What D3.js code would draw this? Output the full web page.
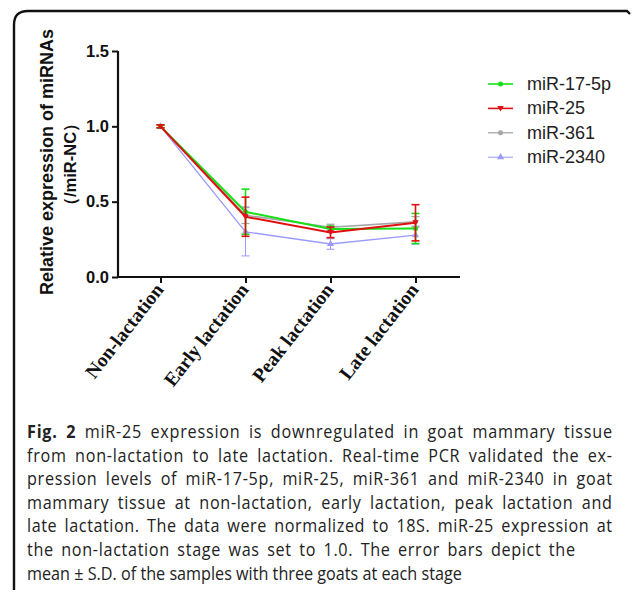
<!DOCTYPE html>
<html>
<head>
<meta charset="utf-8">
<script src="https://cdn.jsdelivr.net/npm/d3@7"></script>
<style>
  body { margin: 0; background: #fff; }
  svg { display: block; }
</style>
</head>
<body>
<svg id="chart" width="633" height="592"></svg>
<script>
// stages on the x axis
const categories = ["Non-lactation", "Early lactation", "Peak lactation", "Late lactation"]
// mean values
const mir17 = [1.0, 0.433, 0.318, 0.322]
const mir25 = [1.0, 0.40, 0.296, 0.36]
const mir361 = [1.0, 0.41, 0.33, 0.366]
const mir2340 = [1.0, 0.30, 0.219, 0.278]
// S.D. of each point
const sd17 = [0.01, 0.15, 0.02, 0.10]
const sd25 = [0.01, 0.13, 0.035, 0.12]
const sd361 = [0.01, 0.055, 0.02, 0.035]
const sd2340 = [0.01, 0.16, 0.035, 0.06]
const seriesNames = ["miR-17-5p", "miR-25", "miR-361", "miR-2340"]
const yTicks = [0, 0.5, 1.0, 1.5]
const caption = [
    "miR-25 expression is downregulated in goat mammary tissue",
    "from non-lactation to late lactation. Real-time PCR validated the ex-",
    "pression levels of miR-17-5p, miR-25, miR-361 and miR-2340 in goat",
    "mammary tissue at non-lactation, early lactation, peak lactation and",
    "late lactation. The data were normalized to 18S. miR-25 expression at",
    "the non-lactation stage was set to 1.0. The error bars depict the",
    "mean ± S.D. of the samples with three goats at each stage"
]
// right edge of each caption line (null = natural width)
const captionEnds = [612, 612, 612, 612, 612, 575, null]

let svg = d3.select("#chart")

// frame of the figure panel
svg.append("path")
    .attr("d", "M14,590 V25 Q14,11 28,11 H627 L630,14")
    .attr("fill", "none")
    .attr("stroke", "#111")
    .attr("stroke-width", 2.4)

let x = d3.scalePoint().domain(categories).range([118, 458]).padding(0.5)
let y = d3.scaleLinear().domain([0, 1.5]).range([277, 51])

// series, drawn bottom to top
let series = [
    { name: seriesNames[3], values: mir2340, sd: sd2340, color: "#9a9aff", width: 1.3, marker: "triangle" },
    { name: seriesNames[2], values: mir361, sd: sd361, color: "#a6a6a6", width: 1.6, marker: "circle" },
    { name: seriesNames[0], values: mir17, sd: sd17, color: "#16e016", width: 2, marker: "circle" },
    { name: seriesNames[1], values: mir25, sd: sd25, color: "#e01010", width: 2, marker: "down" },
]

let line = d3.line()
    .x((d, i) => x(categories[i]))
    .y(d => y(d))

function markerPath(type) {
    if (type == "triangle") return d3.symbol().type(d3.symbolTriangle).size(22)()
    if (type == "down") return "M-3.2,-2.4 L3.2,-2.4 L0,3 Z"
    return d3.symbol().type(d3.symbolCircle).size(20)()
}

let plot = svg.append("g")
series.forEach(s => {
    let g = plot.append("g")
    let pts = s.values.map((v, i) => ({ cat: categories[i], v: v, sd: s.sd[i] }))
    // error bars
    let eb = g.selectAll(".eb").data(pts).enter().append("g")
        .attr("stroke", s.color)
        .attr("stroke-width", s.width * 0.8)
    eb.append("line")
        .attr("x1", d => x(d.cat)).attr("x2", d => x(d.cat))
        .attr("y1", d => y(d.v + d.sd)).attr("y2", d => y(d.v - d.sd))
    eb.append("line")
        .attr("x1", d => x(d.cat) - 4).attr("x2", d => x(d.cat) + 4)
        .attr("y1", d => y(d.v + d.sd)).attr("y2", d => y(d.v + d.sd))
    eb.append("line")
        .attr("x1", d => x(d.cat) - 4).attr("x2", d => x(d.cat) + 4)
        .attr("y1", d => y(d.v - d.sd)).attr("y2", d => y(d.v - d.sd))
    g.append("path")
        .attr("d", line(s.values))
        .attr("fill", "none")
        .attr("stroke", s.color)
        .attr("stroke-width", s.width)
    g.selectAll(".mk").data(pts).enter().append("path")
        .attr("d", markerPath(s.marker))
        .attr("transform", d => `translate(${x(d.cat)},${y(d.v)})`)
        .attr("fill", s.color)
})

// axes
let yAxis = svg.append("g")
    .attr("transform", "translate(118,0)")
    .call(d3.axisLeft(y).tickValues(yTicks).tickFormat(d3.format(".1f")).tickSize(6).tickPadding(3))
let xAxis = svg.append("g")
    .attr("transform", "translate(0,277)")
    .call(d3.axisBottom(x).tickSize(6).tickFormat(""))

;[yAxis, xAxis].forEach(a => {
    a.select(".domain").attr("stroke", "#111").attr("stroke-width", 2.2)
    a.selectAll(".tick line").attr("stroke", "#111").attr("stroke-width", 2)
})
yAxis.select(".domain").attr("d", "M0,51 V277")
xAxis.select(".domain").attr("d", "M117,0 H460")
yAxis.selectAll(".tick text")
    .attr("font-family", "Liberation Sans, Arial, sans-serif")
    .attr("font-weight", "bold")
    .attr("font-size", 16.5)
    .attr("fill", "#111")

// rotated category labels
svg.append("g")
    .selectAll("text")
    .data(categories)
    .enter()
    .append("text")
    .attr("transform", d => `translate(${x(d) + 4},${290}) rotate(-52)`)
    .attr("text-anchor", "end")
    .attr("font-family", "Liberation Serif, 'Times New Roman', serif")
    .attr("font-weight", "bold")
    .attr("font-size", 19.5)
    .attr("fill", "#111")
    .text(d => d)

// y axis title
svg.append("text")
    .attr("transform", "translate(53,162) rotate(-90)")
    .attr("text-anchor", "middle")
    .attr("font-family", "Liberation Sans, Arial, sans-serif")
    .attr("font-weight", "bold")
    .attr("font-size", 18)
    .attr("fill", "#111")
    .text("Relative expression of miRNAs")
svg.append("text")
    .attr("transform", "translate(76,214) rotate(-90)")
    .attr("text-anchor", "start")
    .attr("font-family", "Liberation Sans, Arial, sans-serif")
    .attr("font-weight", "bold")
    .attr("font-size", 16.5)
    .attr("fill", "#111")
    .text("（/miR-NC）")

// legend
let legendOrder = [series[2], series[3], series[1], series[0]]
let legend = svg.append("g")
    .selectAll("g")
    .data(legendOrder)
    .enter()
    .append("g")
    .attr("transform", (d, i) => `translate(0,${84 + i * 24.4})`)
legend.append("line")
    .attr("x1", 488).attr("x2", 513)
    .attr("stroke", d => d.color)
    .attr("stroke-width", d => d.width * 0.8)
legend.append("path")
    .attr("d", d => markerPath(d.marker))
    .attr("transform", "translate(500.5,0)")
    .attr("fill", d => d.color)
legend.append("text")
    .attr("x", 527)
    .attr("y", 6)
    .attr("font-family", "Liberation Sans, Arial, sans-serif")
    .attr("font-size", 18)
    .attr("fill", "#222")
    .text(d => d.name)

// caption: a bit condensed, lines stretched to the reference widths
let sx = 0.92
let capG = svg.append("g")
    .attr("transform", `translate(27,0) scale(${sx},1)`)
    .attr("font-family", "'Open Sans', 'Noto Sans', sans-serif")
    .attr("font-size", 17.6)
    .attr("fill", "#222")
caption.forEach((t, i) => {
    let txt = capG.append("text")
        .attr("x", 0)
        .attr("y", 438 + i * 23.6)
    if (i == 0) {
        txt.append("tspan").attr("font-weight", "bold").text("Fig. 2 ")
    }
    txt.append("tspan").text(t)
    if (captionEnds[i]) {
        let w = txt.node().getComputedTextLength()
        let full = (i == 0 ? "Fig. 2 " : "") + t
        let spaces = (full.match(/ /g) || []).length
        let extra = (captionEnds[i] - 27) / sx - w
        // split the slack between letters and word gaps
        let ls = extra * 0.6 / (full.length - 1)
        let ws = extra * 0.4 / spaces
        txt.attr("letter-spacing", ls).attr("word-spacing", ws)
    }
})
</script>
</body>
</html>
